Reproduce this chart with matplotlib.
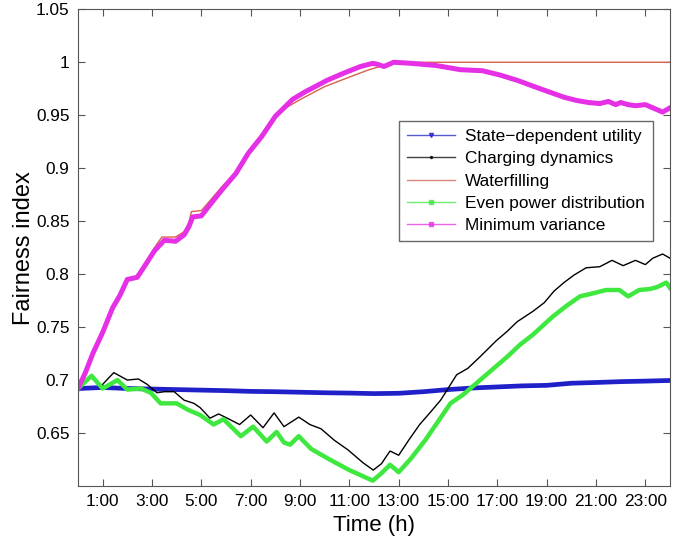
import matplotlib
matplotlib.use('Agg')
import matplotlib.pyplot as plt

plt.rcParams['font.family'] = ['Liberation Sans', 'DejaVu Sans']

# State-dependent utility
t_sd = [0, 1, 2, 3, 4, 5, 6, 7, 8, 9, 10, 11, 12, 13, 14, 15, 16, 17, 18, 19, 20, 21, 22, 23, 24]
v_sd = [0.692, 0.693, 0.692, 0.6915, 0.691, 0.6905, 0.690, 0.6893, 0.689, 0.6885, 0.688, 0.6877, 0.6872,
        0.6875, 0.689, 0.691, 0.6925, 0.6935, 0.6945, 0.695, 0.697, 0.6977, 0.6985, 0.699, 0.6996]

# Charging dynamics
t_cd = [0, 0.5, 0.92, 1.45, 2.0, 2.45, 2.8, 3.2, 3.5, 3.9, 4.3, 4.7, 4.95, 5.35, 5.7, 6.05, 6.55, 7.0, 7.5,
        7.95, 8.35, 8.95, 9.4, 9.85, 10.4, 10.95, 11.55, 11.97, 12.3, 12.65, 13.0, 13.4, 13.85, 14.3, 14.7,
        15.0, 15.35, 15.8, 16.3, 16.95, 17.4, 17.8, 18.45, 18.9, 19.3, 19.7, 20.1, 20.6, 21.15, 21.65, 22.1,
        22.6, 23.0, 23.3, 23.7, 24.0]
v_cd = [0.692, 0.703, 0.694, 0.707, 0.700, 0.701, 0.696, 0.688, 0.689, 0.689, 0.681, 0.678, 0.674, 0.664,
        0.668, 0.664, 0.658, 0.667, 0.655, 0.669, 0.656, 0.665, 0.658, 0.654, 0.643, 0.634, 0.622, 0.615,
        0.621, 0.633, 0.629, 0.643, 0.658, 0.670, 0.681, 0.692, 0.705, 0.711, 0.722, 0.737, 0.746, 0.755,
        0.765, 0.773, 0.784, 0.792, 0.799, 0.806, 0.807, 0.813, 0.808, 0.813, 0.809, 0.815, 0.819, 0.815]

# Waterfilling
t_wf = [0, 0.3, 0.6, 1.0, 1.4, 1.7, 2.0, 2.4, 2.6, 3.1, 3.4, 3.95, 4.3, 4.5, 4.6, 5.0, 5.3, 5.85, 6.4, 6.9,
        7.45, 8.0, 8.5, 9.1, 10.0, 11.0, 11.8, 12.4, 12.8, 24.0]
v_wf = [0.692, 0.707, 0.725, 0.745, 0.768, 0.780, 0.795, 0.797, 0.805, 0.825, 0.835, 0.835, 0.840, 0.849,
        0.859, 0.860, 0.868, 0.883, 0.896, 0.914, 0.930, 0.949, 0.958, 0.966, 0.977, 0.986, 0.993, 0.997,
        1.0, 1.0]

# Even power distribution
t_ep = [0, 0.55, 1.0, 1.6, 2.0, 2.55, 2.95, 3.35, 4.0, 4.45, 4.95, 5.5, 5.9, 6.6, 7.1, 7.65, 8.05, 8.35,
        8.6, 8.95, 9.45, 10.2, 11.0, 11.95, 12.3, 12.65, 13.0, 13.5, 14.1, 14.6, 15.1, 15.6, 16.3, 16.8,
        17.4, 17.9, 18.45, 19.25, 19.8, 20.35, 20.9, 21.4, 21.95, 22.3, 22.75, 23.2, 23.5, 23.85, 24.0]
v_ep = [0.692, 0.704, 0.692, 0.700, 0.691, 0.692, 0.688, 0.678, 0.678, 0.672, 0.667, 0.658, 0.663, 0.647,
        0.656, 0.642, 0.651, 0.641, 0.639, 0.647, 0.635, 0.625, 0.615, 0.605, 0.612, 0.620, 0.613, 0.626,
        0.644, 0.661, 0.678, 0.686, 0.700, 0.710, 0.722, 0.733, 0.743, 0.760, 0.770, 0.779, 0.782, 0.785,
        0.785, 0.779, 0.785, 0.786, 0.788, 0.792, 0.787]

# Minimum variance
t_mv = [0, 0.3, 0.6, 1.0, 1.4, 1.7, 2.0, 2.4, 2.6, 3.1, 3.5, 3.95, 4.3, 4.5, 4.65, 5.0, 5.3, 5.85, 6.4,
        6.9, 7.45, 8.0, 8.7, 9.2, 10.1, 10.8, 11.45, 11.95, 12.15, 12.4, 12.8, 13.5, 14.5, 15.5, 16.4,
        17.1, 17.8, 18.5, 19.1, 19.7, 20.2, 20.7, 21.15, 21.5, 21.8, 22.0, 22.3, 22.6, 23.0, 23.3, 23.7, 24.0]
v_mv = [0.692, 0.707, 0.725, 0.745, 0.768, 0.780, 0.795, 0.797, 0.804, 0.822, 0.832, 0.831, 0.837, 0.845,
        0.854, 0.855, 0.864, 0.880, 0.895, 0.914, 0.930, 0.949, 0.965, 0.972, 0.983, 0.990, 0.996, 0.999,
        0.998, 0.996, 1.0, 0.999, 0.997, 0.993, 0.992, 0.988, 0.983, 0.977, 0.972, 0.967, 0.964, 0.962,
        0.961, 0.963, 0.960, 0.962, 0.960, 0.959, 0.960, 0.957, 0.953, 0.957]

x_ticks = [1, 3, 5, 7, 9, 11, 13, 15, 17, 19, 21, 23]
x_labels = ['1:00', '3:00', '5:00', '7:00', '9:00', '11:00', '13:00', '15:00', '17:00', '19:00', '21:00', '23:00']
y_ticks = [0.65, 0.7, 0.75, 0.8, 0.85, 0.9, 0.95, 1.0, 1.05]
y_labels = ['0.65', '0.7', '0.75', '0.8', '0.85', '0.9', '0.95', '1', '1.05']

fig = plt.figure(figsize=(6.86, 5.38), dpi=100)
ax = fig.add_axes([0.1137, 0.0967, 0.863, 0.886])

ax.plot(t_sd, v_sd, color='#2020c8', lw=3.4, label='State\u2212dependent utility')
ax.plot(t_cd, v_cd, color='black', lw=1.0, label='Charging dynamics')
ax.plot(t_wf, v_wf, color='#d86050', lw=1.0, label='Waterfilling')
ax.plot(t_ep, v_ep, color='#3ee83e', lw=3.2, label='Even power distribution')
ax.plot(t_mv, v_mv, color='#e630e6', lw=3.6, label='Minimum variance')

ax.set_xlim(0, 24)
ax.set_ylim(0.6, 1.05)
ax.set_xticks(x_ticks)
ax.set_xticklabels(x_labels)
ax.set_yticks(y_ticks)
ax.set_yticklabels(y_labels)
ax.tick_params(direction='in', top=True, right=True, labelsize=12.4, length=5, color='#555555', pad=6)
for s in ax.spines.values():
    s.set_color('#555555')

ax.set_xlabel('Time (h)', fontsize=16, labelpad=4)
ax.set_ylabel('Fairness index', fontsize=17, labelpad=1)

leg = ax.legend(loc='upper right', bbox_to_anchor=(0.971, 0.765), fontsize=12.4, frameon=True,
                fancybox=False, edgecolor='#444444', handlelength=2.8, borderpad=0.45,
                labelspacing=0.42, handletextpad=0.6, borderaxespad=0)
leg.get_frame().set_linewidth(1.0)
legend_markers = ['v', '.', '', 's', 's']
for h, m in zip(leg.get_lines(), legend_markers):
    h.set_linewidth(1.0)
    h.set_alpha(0.75)
    if m:
        h.set_marker(m)
        h.set_markersize(3)
        h.set_markevery([1])

fig.savefig('out.png', dpi=100)
